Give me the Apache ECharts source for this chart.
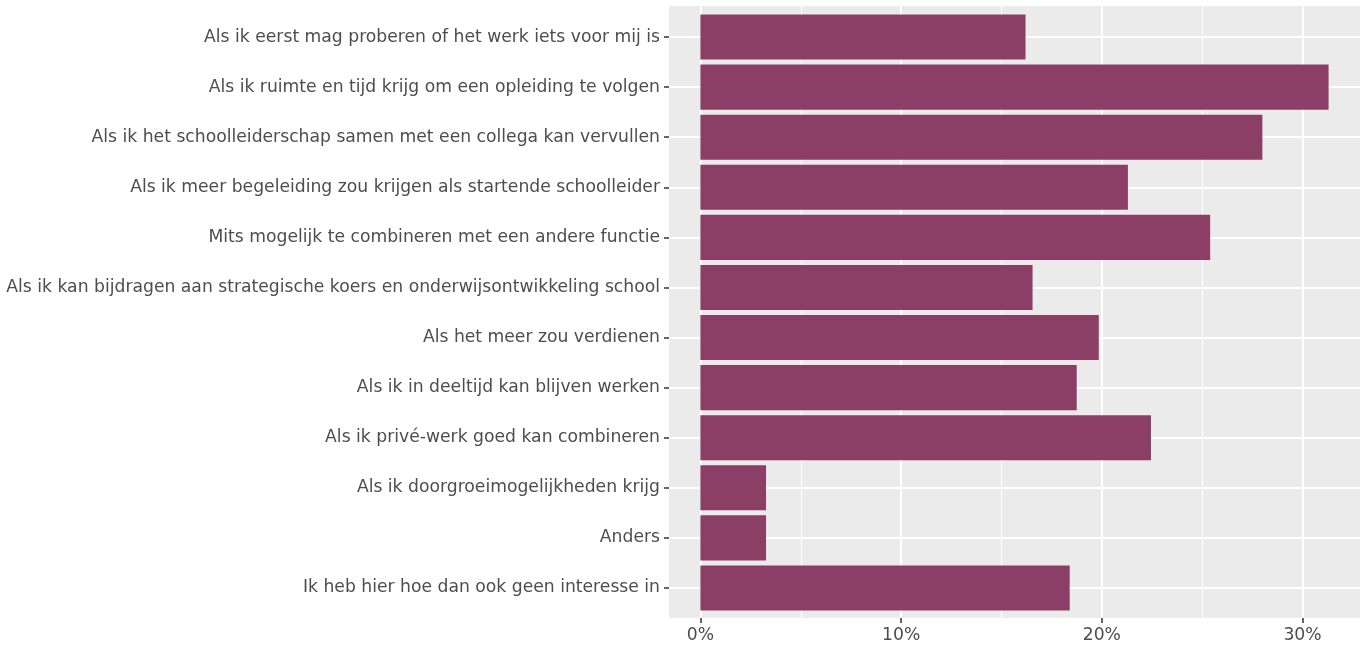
<!DOCTYPE html>
<html>
<head>
<meta charset="utf-8">
<script src="https://cdn.jsdelivr.net/npm/echarts@6/dist/echarts.min.js"></script>
<style>
  html, body { margin: 0; padding: 0; background: #fff; }
  #chart { width: 1367px; height: 646px; }
</style>
</head>
<body>
<div id="chart"></div>
<script>
// categories, top to bottom
const categories = [
  'Als ik eerst mag proberen of het werk iets voor mij is',
  'Als ik ruimte en tijd krijg om een opleiding te volgen',
  'Als ik het schoolleiderschap samen met een collega kan vervullen',
  'Als ik meer begeleiding zou krijgen als startende schoolleider',
  'Mits mogelijk te combineren met een andere functie',
  'Als ik kan bijdragen aan strategische koers en onderwijsontwikkeling school',
  'Als het meer zou verdienen',
  'Als ik in deeltijd kan blijven werken',
  'Als ik privé-werk goed kan combineren',
  'Als ik doorgroeimogelijkheden krijg',
  'Anders',
  'Ik heb hier hoe dan ook geen interesse in'
];
// percentages
const values = [16.2, 31.3, 28.0, 21.3, 25.4, 16.55, 19.85, 18.75, 22.45, 3.27, 3.27, 18.4];
const majorTicks = [0, 10, 20, 30];
const minorTicks = [5, 15, 25];

// ggplot style 5% expansion of the value range
const maxVal = Math.max(...values);
const xMin = -maxVal * 0.05;
const xMax = maxVal * 1.05;

const textColor = '#4D4D4D';
const tickColor = '#333333';
const hiddenLine = { show: true, onZero: false, lineStyle: { color: 'rgba(0,0,0,0)', width: 0 } };

const chart = echarts.init(document.getElementById('chart'));
chart.setOption({
  animation: false,
  grid: [
    // panel
    { left: 669, right: 7, top: 6, bottom: 28, show: true, backgroundColor: '#EBEBEB', borderWidth: 0 },
    // bars (category centres, 0.5 band on each side)
    { left: 669, right: 7, top: 12, bottom: 33 }
  ],
  xAxis: [
    {
      gridIndex: 0,
      type: 'value',
      min: xMin,
      max: xMax,
      axisLine: hiddenLine,
      splitLine: { show: false },
      axisTick: { show: true, customValues: majorTicks, length: 5, lineStyle: { color: tickColor, width: 1.5 } },
      axisLabel: {
        customValues: majorTicks,
        formatter: '{value}%',
        color: textColor,
        fontSize: 17.2,
        fontFamily: 'DejaVu Sans',
        margin: 9
      }
    },
    {
      gridIndex: 1,
      type: 'value',
      min: xMin,
      max: xMax,
      show: false
    }
  ],
  yAxis: [
    { gridIndex: 0, type: 'value', min: 0, max: 1, show: false },
    {
      gridIndex: 1,
      type: 'category',
      data: categories,
      inverse: true,
      axisLine: hiddenLine,
      axisTick: { show: true, alignWithLabel: true, length: 5, lineStyle: { color: tickColor, width: 1.5 } },
      splitLine: { show: false },
      axisLabel: {
        color: textColor,
        fontSize: 17.2,
        fontFamily: 'DejaVu Sans',
        margin: 9
      }
    }
  ],
  series: [
    {
      // vertical grid lines
      type: 'line',
      xAxisIndex: 0,
      yAxisIndex: 0,
      data: [],
      silent: true,
      z: 0,
      markLine: {
        z: 0,
        silent: true,
        symbol: 'none',
        animation: false,
        label: { show: false },
        lineStyle: { color: '#FFFFFF', width: 2, type: 'solid' },
        data: majorTicks.map(v => ({ xAxis: v }))
          .concat(minorTicks.map(v => ({ xAxis: v, lineStyle: { width: 1, color: '#FFFFFF', type: 'solid' } })))
      }
    },
    {
      // horizontal grid lines at the categories
      type: 'line',
      xAxisIndex: 1,
      yAxisIndex: 1,
      data: [],
      silent: true,
      z: 0,
      markLine: {
        z: 0,
        silent: true,
        symbol: 'none',
        animation: false,
        label: { show: false },
        lineStyle: { color: '#FFFFFF', width: 2, type: 'solid' },
        data: categories.map(c => ({ yAxis: c }))
      }
    },
    {
      type: 'bar',
      xAxisIndex: 1,
      yAxisIndex: 1,
      data: values,
      barCategoryGap: '10%',
      z: 5,
      itemStyle: { color: '#8B3E66' }
    }
  ]
});
</script>
</body>
</html>
